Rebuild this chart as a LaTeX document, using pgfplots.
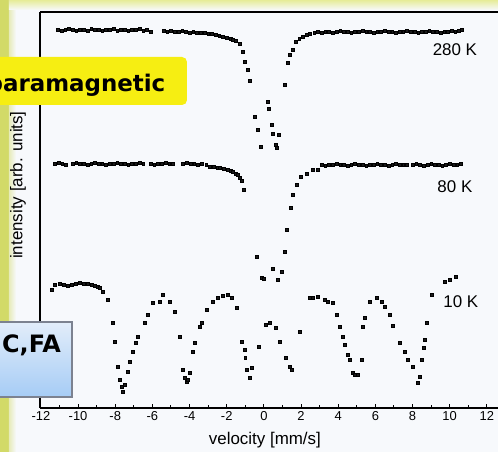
\documentclass[border=0pt]{standalone}
\usepackage{fontspec}
\setmainfont{Liberation Sans}
\newfontfamily\calloutfont{DejaVu Sans}
\usepackage{pgfplots}
\pgfplotsset{compat=1.18}

\definecolor{pagebg}{HTML}{F7F9FC}
\definecolor{stripgreen}{HTML}{D2DA68}
\definecolor{stripyellow}{HTML}{E6EC98}
\definecolor{calloutyellow}{HTML}{F6EE12}
\definecolor{boxtop}{HTML}{E2EDFA}
\definecolor{boxbottom}{HTML}{A6CCF5}
\definecolor{boxedge}{HTML}{7C8290}
\definecolor{dots}{HTML}{1A1A1A}

% Moessbauer spectra: velocity (mm/s) vs. intensity (arb. units, offset per temperature)
\pgfplotstableread{
v     I
-11.1 378
-10.9 377
-10.7 378
-10.5 379
-10.3 378
-10.1 377
-9.9  378
-9.7  378
-9.5  377
-9.3  379
-9.1  378
-8.9  378
-8.7  377
-8.5  378
-8.3  378
-8.1  379
-7.9  377
-7.7  378
-7.5  378
-7.3  377
-7.1  378
-6.9  378
-6.7  379
-6.5  377
-6.3  378
-6.1  376
-5.4  377
-5.2  376
-5.0  377
-4.8  376
-4.6  376
-4.4  377
-4.2  376
-4.0  375
-3.8  376
-3.6  375
-3.4  375
-3.2  375
-3.0  374
-2.8  374
-2.6  373
-2.4  372
-2.2  371
-2.0  370
-1.8  369
-1.67 368
-1.5  367
-1.29 364
-1.13 356
-1.02 346
-0.86 338
-0.75 327
-0.48 291
-0.32 278
-0.16 261
0.22  306
0.27  299
0.43  283
0.48  274
0.65  263
0.70  260
0.81  273
1.13  323
1.29  345
1.40  353
1.56  358
1.72  366
1.90  369
2.10  371
2.30  373
2.48  374
2.7   375
2.9   376
3.1   375
3.3   376
3.5   376
3.7   375
3.9   376
4.1   377
4.3   376
4.5   376
4.7   375
4.9   376
5.1   376
5.3   377
5.5   376
5.7   376
5.9   375
6.1   376
6.3   376
6.5   377
6.7   376
6.9   376
7.1   375
7.3   376
7.5   376
7.7   377
7.9   376
8.1   376
8.3   375
8.5   376
8.7   376
8.9   377
9.1   376
9.3   376
9.5   375
9.7   376
9.9   376
10.1  377
10.3  376
10.5  377
10.66 378
}\spectrumA

\pgfplotstableread{
v     I
-11.25 244
-11.05 245
-10.85 244
-10.65 243
-10.3 244
-10.1 245
-9.9  244
-9.7  244
-9.5  243
-9.3  244
-9.1  245
-8.9  244
-8.7  244
-8.5  243
-8.3  244
-8.1  244
-7.9  245
-7.7  244
-7.5  244
-7.3  243
-7.1  244
-6.9  244
-6.7  245
-6.5  244
-6.1  244
-5.9  243
-5.7  244
-5.5  244
-5.3  245
-5.1  244
-4.9  244
-4.36 244
-4.15 245
-3.95 244
-3.75 244
-3.55 243
-3.35 244
-3.1  243
-2.9  241
-2.7  241
-2.5  240
-2.37 240
-2.15 239
-1.94 238
-1.80 237
-1.67 236
-1.52 234
-1.40 233
-1.29 230
-1.18 227
-1.08 218
-0.38 151
-0.11 130
0.00  129
0.48  139
0.75  128
0.97  136
1.13  156
1.24  178
1.45  200
1.56  213
1.78  223
1.99  231
2.31  234
2.64  238
2.91  238
3.1   243
3.3   242
3.5   243
3.7   243
3.9   244
4.1   243
4.3   243
4.5   242
4.7   243
4.9   244
5.1   243
5.3   243
5.5   242
5.7   243
5.9   243
6.1   244
6.3   243
6.5   243
6.7   242
6.9   243
7.1   244
7.3   243
7.5   243
7.7   243
8.0   243
8.2   244
8.4   243
8.6   242
8.8   243
9.0   244
9.2   243
9.4   243
9.6   242
9.8   243
10.0  244
10.2  243
10.4  243
10.6  244
}\spectrumB

\pgfplotstableread{
v      I
-11.41 118
-11.25 123
-10.98 124
-10.76 123
-10.55 122
-10.33 123
-10.12 124
-9.90  125
-9.69  124
-9.47  124
-9.26  123
-9.10  122
-8.93  121
-8.83  120
-8.67  116
-8.40  108
-8.13  85
-8.02  66
-7.86  41
-7.75  28
-7.64  21
-7.60  16
-7.48  23
-7.32  36
-7.21  46
-7.05  56
-6.89  65
-6.78  71
-6.40  85
-6.24  93
-5.97  105
-5.60  106
-5.44  113
-5.06  106
-4.79  96
-4.52  71
-4.36  38
-4.25  30
-4.14  26
-4.09  28
-3.98  35
-3.82  56
-3.71  65
-3.44  81
-3.34  85
-3.07  98
-2.74  106
-2.48  110
-2.20  112
-1.94  113
-1.72  110
-1.45  100
-1.18  66
-1.02  58
-1.00  50
-0.91  38
-0.75  30
-0.65  40
-0.27  61
0.11   83
0.32   85
0.65   80
0.86   66
1.18   50
1.40   41
1.51   38
1.94   76
2.48   110
2.64   110
2.91   111
3.28   108
3.44   106
3.71   105
3.93   93
4.09   81
4.25   71
4.36   63
4.52   53
4.63   48
4.79   35
4.90   33
5.06   33
5.27   48
5.33   81
5.44   90
5.71   106
6.08   110
6.35   106
6.51   101
6.78   93
6.94   82
7.32   65
7.59   56
7.75   48
8.02   41
8.29   25
8.40   31
8.50   48
8.61   60
8.67   68
8.77   85
9.04   113
9.74   126
10.01  128
10.33  131
}\spectrumC

\begin{document}
\begin{tikzpicture}
% page background with the coloured frame strips
\fill[pagebg] (-40bp,-44bp) rectangle (458bp,408bp);
\fill[stripgreen] (-40bp,-44bp) rectangle (-31bp,408bp);
\shade[left color=stripgreen!45!pagebg, right color=pagebg] (-31bp,-44bp) rectangle (-24bp,408bp);
\shade[top color=stripyellow, bottom color=pagebg] (-31bp,398bp) rectangle (458bp,408bp);

\begin{axis}[
  scale only axis,
  width=458bp, height=396bp,
  xmin=-12.05, xmax=12.6,
  ymin=0, ymax=396,
  axis x line=box, axis y line=left,
  axis line style={line width=1.4bp, -},
  xtick={-12,-10,...,12},
  minor x tick num=1,
  xtick pos=bottom,
  ytick=\empty,
  tick align=inside,
  major tick length=4bp, minor tick length=3bp,
  tick style={black, line width=1bp},
  /pgf/number format/assume math mode=true,
  ticklabel style={font=\fontsize{13}{15}\selectfont},
  xlabel={velocity [mm/s]},
  xlabel style={at={(axis description cs:0.491,-0.081)}, anchor=center, font=\fontsize{17}{19}\selectfont},
  ylabel={intensity [arb. units]},
  ylabel style={at={(axis description cs:-0.048,0.563)}, anchor=center, font=\fontsize{17}{19}\selectfont},
  clip=false,
]
\addplot[only marks, mark=square*, mark size=1.35bp, mark options={fill=dots, draw=none}] table[x=v, y=I] {\spectrumA};
\addplot[only marks, mark=square*, mark size=1.35bp, mark options={fill=dots, draw=none}] table[x=v, y=I] {\spectrumB};
\addplot[only marks, mark=square*, mark size=1.35bp, mark options={fill=dots, draw=none}] table[x=v, y=I] {\spectrumC};

\node[font=\fontsize{17}{19}\selectfont] at (axis cs:10.28,358) {280 K};
\node[font=\fontsize{17}{19}\selectfont] at (axis cs:10.28,221) {80 K};
\node[font=\fontsize{17}{19}\selectfont] at (axis cs:10.60,106) {10 K};
\end{axis}

% callouts, positioned from the top-left corner of the page
\begin{scope}[shift={(-40bp,408bp)}, x=1bp, y=-1bp]
  \fill[calloutyellow, rounded corners=5bp] (-20,57) rectangle (187,105);
  \node[anchor=base west, inner sep=0pt, font=\calloutfont\bfseries\fontsize{23}{26}\selectfont] at (-13.5,92) {paramagnetic};
  \shadedraw[top color=boxtop, bottom color=boxbottom, draw=boxedge, line width=1.5bp] (-10,322) rectangle (72,397);
  \node[anchor=base west, inner sep=0pt, font=\calloutfont\bfseries\fontsize{24}{27}\selectfont] at (2,353) {C,FA};
\end{scope}

\pgfresetboundingbox
\useasboundingbox (-40bp,-44bp) rectangle (458bp,408bp);
\end{tikzpicture}
\end{document}
